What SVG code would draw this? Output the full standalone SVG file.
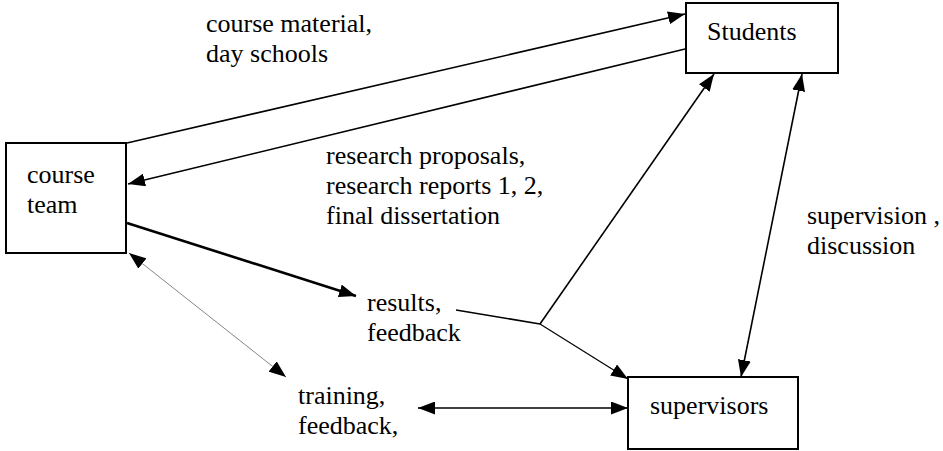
<svg xmlns="http://www.w3.org/2000/svg" width="943" height="451" viewBox="0 0 943 451">
<defs>
<marker id="ae" markerUnits="userSpaceOnUse" markerWidth="17" markerHeight="13" refX="17" refY="6.5" orient="auto" viewBox="0 0 17 13">
<path d="M0,0 L17,6.5 L0,13 z" fill="#000"/>
</marker>
<marker id="as" markerUnits="userSpaceOnUse" markerWidth="17" markerHeight="13" refX="0" refY="6.5" orient="auto" viewBox="0 0 17 13">
<path d="M17,0 L0,6.5 L17,13 z" fill="#000"/>
</marker>
</defs>
<rect width="943" height="451" fill="#fff"/>
<g id="connectors" fill="none" stroke="#000" stroke-width="1.6">
<line x1="127" y1="143" x2="685" y2="14" marker-end="url(#ae)"/>
<line x1="685" y1="49" x2="128" y2="184" marker-end="url(#ae)"/>
<line stroke-width="2.6" x1="127" y1="223" x2="356" y2="296" marker-end="url(#ae)"/>
<line stroke="#666" stroke-width="0.8" x1="129" y1="253" x2="286" y2="377" marker-start="url(#as)" marker-end="url(#ae)"/>
<polyline points="456,310 540,324"/>
<line x1="540" y1="324" x2="714" y2="74" marker-end="url(#ae)"/>
<line stroke-width="1.2" x1="540" y1="324" x2="628" y2="379" marker-end="url(#ae)"/>
<line x1="802" y1="74" x2="741" y2="377" marker-start="url(#as)" marker-end="url(#ae)"/>
<line x1="418" y1="408" x2="628" y2="408" marker-start="url(#as)" marker-end="url(#ae)"/>
</g>
<g id="course-team">
<rect x="6" y="143" width="120" height="110" fill="#fff" stroke="#000" stroke-width="2"/>
<text x="27" y="183" font-family="Liberation Serif" font-size="26">course</text>
<text x="27" y="213" font-family="Liberation Serif" font-size="26">team</text>
</g>
<g id="students">
<rect x="686" y="3" width="152" height="70" fill="#fff" stroke="#000" stroke-width="2"/>
<text x="707" y="40" font-family="Liberation Serif" font-size="26">Students</text>
</g>
<g id="supervisors">
<rect x="628" y="377" width="170" height="72" fill="#fff" stroke="#000" stroke-width="2"/>
<text x="650" y="414" font-family="Liberation Serif" font-size="26">supervisors</text>
</g>
<text x="206" y="32" font-family="Liberation Serif" font-size="26">course material,</text>
<text x="206" y="62" font-family="Liberation Serif" font-size="26">day schools</text>
<text x="326" y="164" font-family="Liberation Serif" font-size="26">research proposals,</text>
<text x="326" y="194" font-family="Liberation Serif" font-size="26">research reports 1, 2,</text>
<text x="326" y="224" font-family="Liberation Serif" font-size="26">final dissertation</text>
<text x="807" y="224" font-family="Liberation Serif" font-size="26">supervision ,</text>
<text x="807" y="254" font-family="Liberation Serif" font-size="26">discussion</text>
<text x="367" y="311" font-family="Liberation Serif" font-size="26">results,</text>
<text x="367" y="341" font-family="Liberation Serif" font-size="26">feedback</text>
<text x="298" y="404" font-family="Liberation Serif" font-size="26">training,</text>
<text x="298" y="434" font-family="Liberation Serif" font-size="26">feedback,</text>
</svg>
